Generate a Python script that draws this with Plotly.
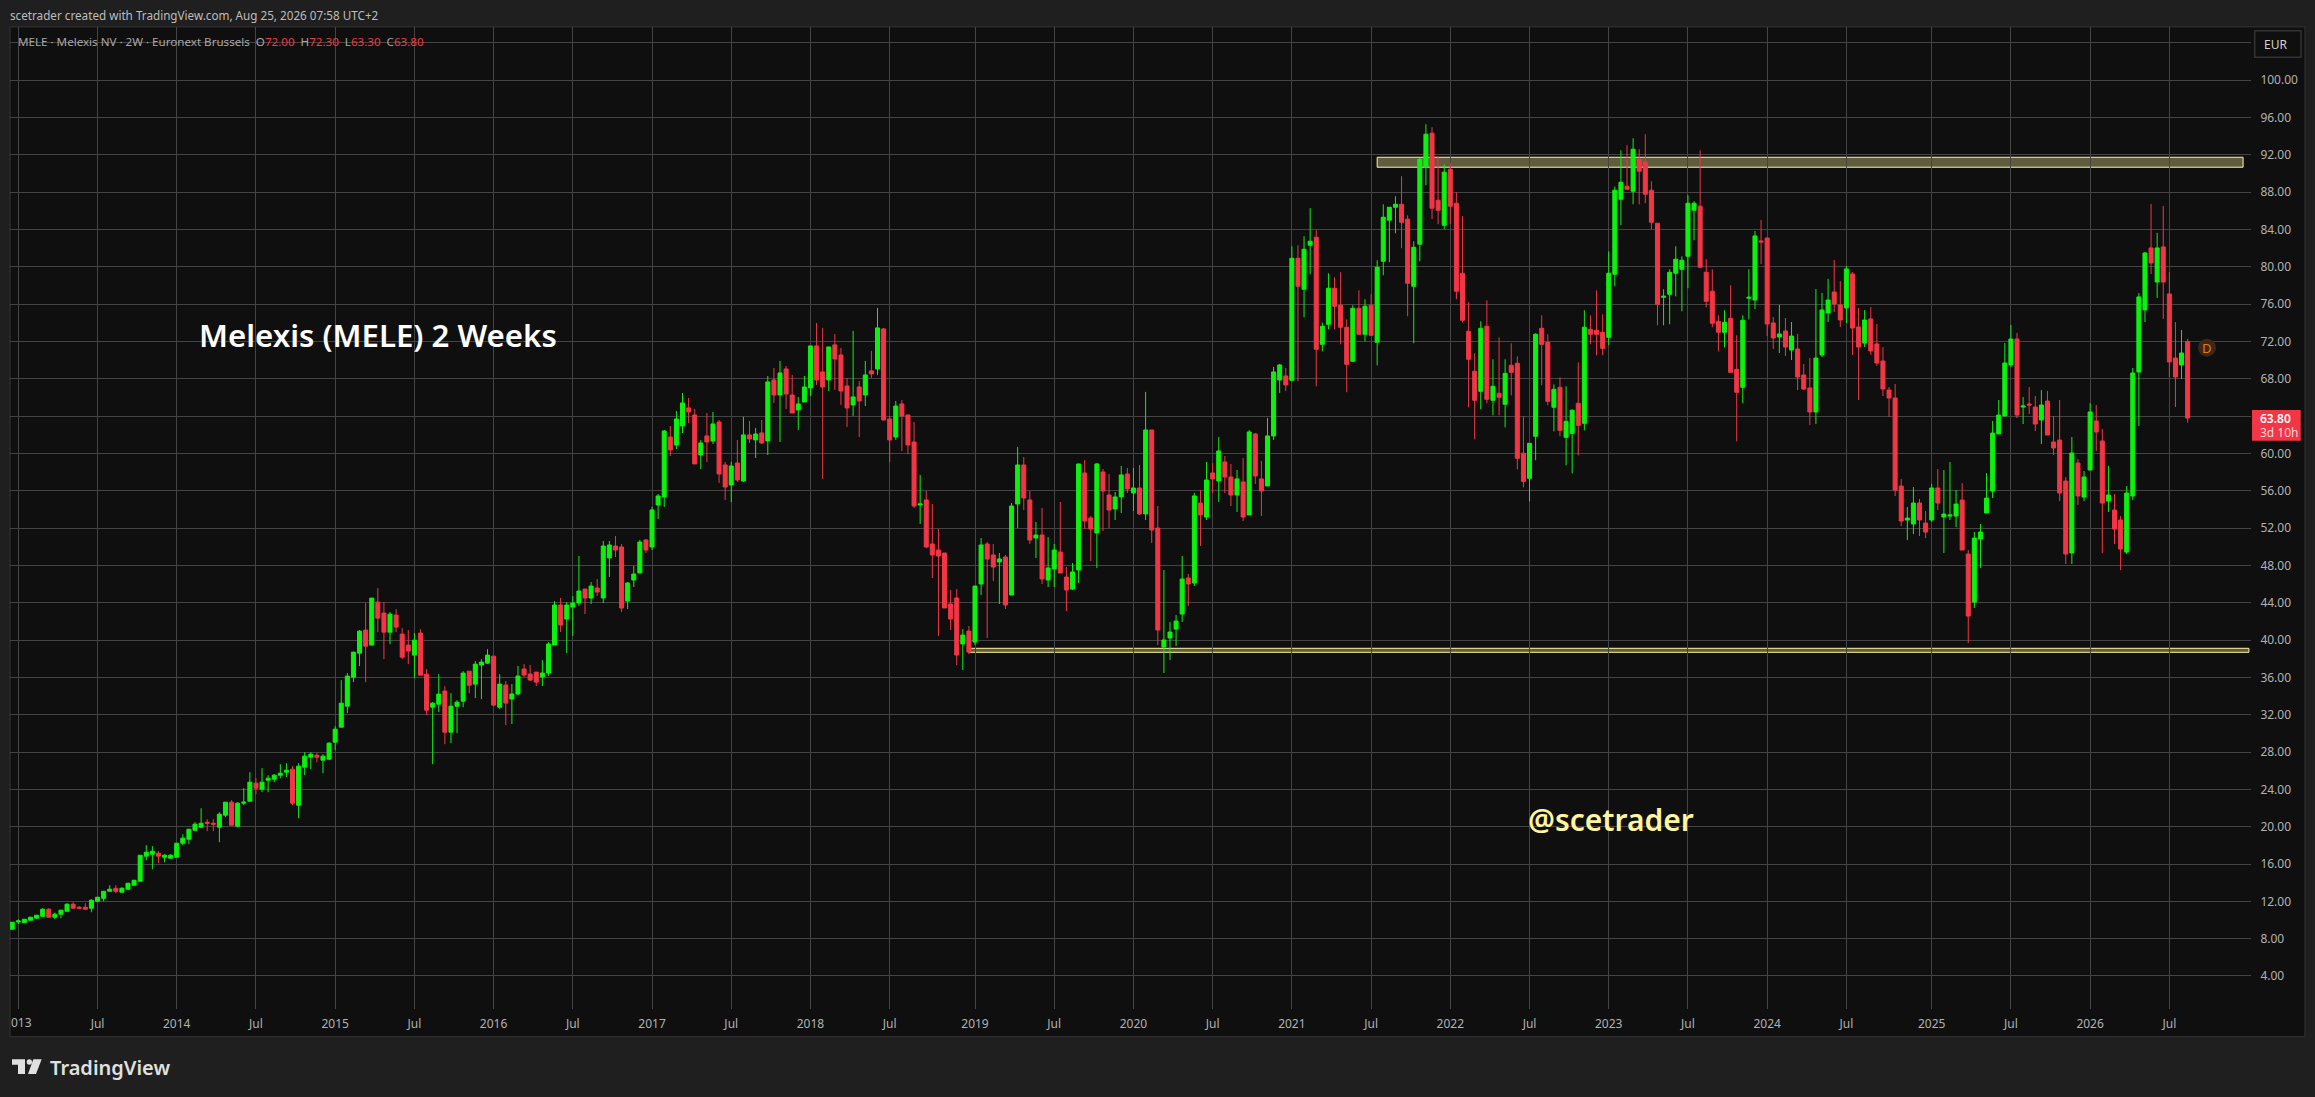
import plotly.graph_objects as go

opens = [
 9.01, 9.79, 9.72, 9.97, 10.19, 10.40, 11.15, 10.30, 10.62, 10.94,
 11.69, 11.37, 11.37, 11.26, 12.01, 12.33, 13.08, 13.40, 12.98, 13.30,
 13.73, 14.15, 16.84, 17.05, 17.16, 16.73, 16.62, 16.73, 18.23, 18.66,
 19.62, 19.95, 20.48, 20.37, 19.95, 21.23, 22.63, 20.05, 22.52, 22.73,
 24.66, 24.02, 24.98, 25.09, 25.52, 25.84, 26.16, 22.30, 26.38, 27.45,
 27.66, 27.13, 27.24, 29.06, 30.67, 32.92, 36.03, 38.60, 41.07, 39.46,
 44.07, 42.89, 40.85, 42.68, 40.64, 39.46, 38.39, 40.75, 36.35, 32.81,
 33.13, 34.53, 30.13, 32.92, 33.45, 36.67, 35.28, 37.32, 37.53, 38.28,
 32.81, 35.18, 33.68, 34.22, 36.90, 36.36, 36.57, 36.04, 36.47, 39.47,
 43.76, 42.26, 43.54, 43.97, 45.47, 44.51, 45.58, 44.51, 48.80, 50.08,
 49.98, 44.19, 46.44, 47.19, 50.73, 49.98, 54.48, 55.34, 61.77, 60.91,
 62.95, 64.88, 64.13, 59.84, 61.88, 61.34, 63.38, 58.77, 56.62, 58.98,
 57.05, 61.99, 61.45, 62.20, 61.34, 67.88, 66.27, 69.06, 66.27, 64.67,
 65.52, 67.02, 71.53, 68.74, 67.88, 71.64, 70.56, 67.24, 65.20, 67.13,
 66.27, 68.85, 69.06, 73.35, 63.70, 61.77, 65.31, 64.13, 61.23, 54.48,
 55.02, 50.30, 49.65, 49.33, 43.87, 44.51, 39.58, 40.97, 39.79, 46.01,
 50.30, 49.12, 48.37, 48.90, 44.83, 54.59, 58.77, 55.02, 50.94, 51.26,
 46.44, 47.62, 49.44, 46.76, 45.47, 47.51, 57.91, 53.09, 51.48, 58.02,
 55.55, 54.05, 55.34, 57.80, 55.77, 56.30, 53.52, 62.52, 52.01, 39.25,
 40.22, 41.18, 42.79, 46.65, 46.12, 54.69, 53.19, 57.91, 57.05, 59.09,
 57.48, 55.55, 56.95, 53.41, 62.09, 57.27, 56.52, 61.88, 67.88, 68.31,
 67.84, 80.92, 77.60, 82.32, 83.18, 71.70, 73.85, 77.71, 75.89, 73.53,
 69.88, 75.56, 72.78, 75.89, 71.92, 80.60, 85.00, 86.39, 86.71, 85.11,
 77.92, 82.43, 90.68, 94.33, 87.14, 84.46, 90.47, 86.82, 79.32, 73.10,
 68.81, 66.66, 73.63, 65.70, 66.45, 65.27, 69.45, 69.67, 60.02, 57.34,
 61.84, 73.42, 71.92, 64.95, 67.09, 61.73, 62.16, 65.38, 63.23, 73.31,
 73.20, 72.99, 72.45, 79.21, 87.25, 88.64, 88.11, 91.54, 91.22, 88.22,
 84.68, 76.74, 77.06, 79.32, 79.74, 81.14, 86.07, 86.50, 79.42, 77.39,
 74.17, 72.99, 74.49, 69.02, 67.09, 76.64, 76.45, 82.78, 83.10, 73.99,
 72.49, 73.13, 71.09, 71.20, 68.41, 67.02, 64.45, 70.56, 75.06, 77.31,
 75.92, 75.60, 79.24, 73.56, 71.84, 74.42, 71.74, 69.91, 66.80, 65.95,
 56.51, 52.87, 52.44, 54.69, 52.54, 52.87, 56.30, 53.19, 53.29, 53.29,
 55.01, 49.22, 44.07, 50.83, 53.62, 55.97, 62.09, 64.02, 69.48, 72.27,
 64.98, 65.30, 64.98, 63.59, 65.62, 61.23, 61.44, 57.05, 49.33, 58.98,
 55.33, 58.23, 63.48, 61.34, 54.90, 53.94, 52.87, 49.43, 55.44, 68.73,
 75.38, 82.03, 78.38, 82.14, 77.10, 70.23, 69.48, 72.00,
]
highs = [
 9.76, 10.08, 10.08, 10.30, 10.51, 11.26, 11.26, 10.80, 11.05, 11.80,
 11.90, 11.47, 11.80, 12.22, 12.44, 13.08, 13.73, 13.73, 13.51, 13.94,
 14.26, 16.94, 18.02, 17.91, 17.37, 17.05, 17.05, 18.23, 19.19, 19.73,
 20.48, 21.98, 20.80, 20.80, 21.55, 22.63, 22.84, 22.63, 24.13, 25.84,
 25.20, 26.27, 25.52, 25.63, 26.70, 26.81, 26.49, 26.81, 27.99, 27.99,
 27.88, 27.77, 29.06, 30.77, 35.71, 36.46, 38.71, 41.07, 43.96, 44.50,
 45.57, 44.07, 43.00, 43.32, 41.28, 41.07, 40.75, 41.17, 36.89, 33.35,
 36.35, 35.06, 34.31, 33.56, 36.67, 36.67, 37.74, 37.96, 39.03, 38.28,
 36.35, 35.61, 35.29, 37.22, 37.43, 37.33, 36.57, 37.86, 39.79, 44.19,
 44.51, 44.08, 44.72, 49.01, 45.47, 46.22, 46.55, 50.62, 50.62, 51.16,
 50.30, 46.22, 47.94, 50.73, 50.83, 54.27, 55.66, 62.52, 62.95, 64.56,
 66.49, 65.95, 64.77, 61.45, 64.34, 64.45, 63.59, 59.09, 59.09, 61.45,
 63.92, 63.49, 62.74, 63.59, 68.31, 69.17, 69.92, 69.38, 68.42, 66.06,
 68.31, 71.53, 73.99, 73.46, 71.42, 72.81, 71.31, 68.10, 73.14, 67.77,
 69.92, 70.99, 75.60, 73.46, 64.02, 65.63, 65.74, 64.13, 63.38, 57.70,
 55.98, 54.59, 51.91, 49.33, 45.37, 45.47, 41.18, 41.51, 45.79, 50.94,
 50.51, 50.30, 49.33, 49.12, 54.69, 60.70, 59.63, 55.98, 52.66, 54.16,
 51.05, 50.30, 54.80, 47.83, 48.26, 58.88, 59.30, 53.30, 58.98, 58.34,
 57.80, 55.87, 58.66, 58.45, 58.45, 58.77, 66.60, 62.52, 54.37, 47.51,
 41.94, 42.69, 49.01, 47.08, 55.77, 56.09, 59.09, 58.98, 61.77, 59.73,
 58.88, 58.23, 59.52, 62.52, 62.20, 59.20, 63.81, 69.28, 69.60, 69.17,
 82.21, 82.32, 83.28, 86.29, 83.93, 74.03, 79.32, 78.89, 79.42, 74.38,
 75.89, 77.49, 76.53, 77.06, 80.71, 86.71, 86.39, 87.57, 89.72, 85.53,
 82.75, 91.65, 95.29, 94.97, 91.86, 91.00, 91.11, 88.00, 85.43, 76.21,
 70.74, 74.17, 76.42, 70.10, 72.45, 70.10, 71.81, 70.42, 63.98, 61.09,
 72.88, 74.81, 72.78, 67.41, 68.17, 67.20, 64.73, 69.77, 75.35, 74.81,
 77.49, 74.92, 81.67, 88.61, 92.50, 93.04, 93.79, 92.61, 94.22, 89.18,
 84.68, 77.60, 79.74, 82.21, 81.14, 87.68, 87.04, 92.50, 80.82, 79.74,
 74.81, 75.35, 78.03, 72.67, 74.81, 79.74, 83.85, 85.03, 83.10, 74.63,
 75.92, 74.52, 74.09, 72.81, 69.59, 70.23, 77.63, 77.20, 78.71, 80.74,
 78.49, 80.10, 79.46, 75.60, 75.38, 75.70, 73.88, 71.41, 67.13, 67.45,
 57.26, 54.26, 56.40, 55.12, 53.83, 56.73, 58.33, 58.23, 59.08, 56.08,
 56.83, 49.65, 51.58, 52.44, 57.90, 63.48, 65.73, 71.84, 73.77, 72.92,
 66.05, 67.13, 66.16, 66.80, 66.70, 64.02, 65.73, 57.48, 61.76, 59.41,
 58.12, 65.41, 65.20, 62.62, 58.66, 55.65, 53.29, 56.51, 69.16, 77.20,
 81.60, 86.75, 83.64, 86.53, 79.46, 74.09, 73.24, 72.30,
]
lows = [
 9.01, 9.55, 9.65, 9.97, 10.19, 10.30, 10.30, 10.08, 10.19, 10.94,
 11.26, 11.15, 11.15, 10.83, 12.01, 12.01, 13.08, 12.87, 12.98, 13.30,
 13.73, 14.15, 16.41, 15.44, 16.09, 16.19, 16.62, 16.73, 18.02, 18.12,
 19.52, 19.84, 19.52, 19.52, 18.34, 21.02, 20.16, 19.95, 22.30, 22.73,
 23.48, 23.70, 23.70, 24.77, 25.20, 25.31, 22.30, 20.91, 25.52, 26.16,
 26.91, 25.73, 27.13, 28.20, 30.67, 32.17, 35.49, 37.21, 35.49, 39.46,
 40.85, 37.96, 39.57, 40.85, 37.96, 37.42, 35.92, 36.24, 31.95, 26.70,
 32.28, 28.84, 28.95, 30.02, 32.81, 34.31, 33.78, 33.67, 37.42, 32.92,
 32.60, 30.89, 31.00, 34.11, 36.04, 35.61, 35.07, 35.07, 36.15, 39.47,
 40.86, 38.61, 40.43, 43.65, 42.79, 43.87, 44.72, 43.97, 46.76, 48.90,
 43.01, 43.33, 45.69, 47.19, 49.33, 49.65, 52.98, 54.27, 59.73, 60.48,
 62.20, 63.27, 58.88, 58.34, 59.09, 61.02, 56.84, 55.02, 54.80, 56.95,
 56.95, 61.13, 59.52, 61.02, 59.84, 65.42, 61.23, 64.77, 64.34, 62.52,
 65.52, 66.17, 67.35, 57.27, 66.70, 66.81, 65.20, 62.84, 64.02, 61.77,
 65.09, 68.10, 68.42, 63.59, 59.09, 61.45, 60.27, 59.95, 54.16, 52.44,
 49.87, 46.65, 40.43, 43.44, 41.08, 37.33, 36.79, 38.50, 39.47, 44.83,
 40.22, 46.33, 43.87, 43.33, 44.83, 52.01, 53.94, 50.30, 48.80, 46.01,
 45.69, 45.69, 47.19, 43.11, 45.37, 46.12, 51.91, 48.48, 47.73, 51.69,
 52.01, 52.87, 53.62, 55.77, 53.84, 53.41, 52.87, 50.41, 39.47, 36.47,
 37.86, 39.36, 41.94, 43.65, 45.79, 50.08, 52.87, 55.77, 54.80, 55.77,
 54.37, 53.73, 52.76, 53.41, 56.73, 53.30, 56.52, 61.45, 66.49, 66.70,
 67.84, 67.74, 74.60, 79.21, 67.20, 70.95, 73.31, 73.31, 71.70, 66.56,
 69.88, 72.78, 72.02, 72.67, 69.45, 79.10, 80.50, 83.60, 82.00, 74.71,
 71.81, 80.60, 88.75, 85.11, 84.57, 84.03, 84.57, 76.53, 74.06, 64.95,
 61.52, 64.73, 65.38, 64.09, 64.09, 62.80, 66.23, 58.30, 56.37, 54.87,
 59.27, 67.31, 65.16, 62.37, 61.84, 58.73, 57.87, 59.80, 62.48, 71.70,
 70.52, 70.52, 71.60, 77.92, 84.46, 88.32, 86.71, 86.71, 86.82, 84.03,
 73.74, 73.74, 73.85, 76.85, 75.24, 77.71, 82.85, 79.85, 75.67, 73.53,
 70.95, 71.38, 68.70, 61.30, 65.38, 74.38, 75.49, 80.31, 72.59, 71.20,
 70.77, 70.45, 70.02, 66.80, 66.80, 63.05, 63.16, 70.34, 74.09, 75.17,
 73.56, 73.99, 70.56, 65.73, 71.41, 70.56, 69.38, 66.16, 63.91, 55.44,
 52.22, 50.72, 51.36, 51.15, 50.93, 52.65, 53.94, 49.33, 52.87, 52.11,
 49.65, 39.68, 43.43, 47.72, 53.62, 55.22, 62.09, 64.02, 69.27, 63.80,
 63.16, 64.23, 62.41, 61.01, 61.98, 59.83, 54.90, 48.15, 48.15, 54.47,
 54.90, 58.23, 60.26, 49.33, 53.72, 50.29, 47.50, 49.22, 55.01, 62.94,
 74.09, 79.24, 76.67, 74.42, 68.20, 64.98, 67.98, 63.30,
]
closes = [
 9.76, 9.90, 10.08, 10.30, 10.51, 11.15, 10.30, 10.62, 11.05, 11.69,
 11.26, 11.26, 11.15, 12.12, 12.44, 13.08, 13.30, 13.08, 13.40, 13.94,
 14.26, 16.94, 17.26, 17.37, 16.84, 16.94, 16.94, 18.23, 18.77, 19.73,
 20.27, 20.37, 20.37, 20.27, 21.34, 22.63, 20.16, 22.52, 22.63, 24.77,
 24.13, 24.77, 25.20, 25.52, 25.73, 26.06, 22.52, 26.49, 27.56, 27.77,
 27.45, 27.56, 28.95, 30.45, 33.24, 36.14, 38.71, 40.96, 39.35, 44.50,
 42.35, 40.85, 42.78, 41.39, 38.17, 38.82, 39.99, 36.24, 32.49, 33.24,
 34.21, 30.13, 32.92, 33.35, 36.46, 35.17, 37.42, 37.64, 38.39, 33.03,
 35.28, 33.25, 34.22, 36.15, 36.25, 35.72, 35.50, 36.47, 39.58, 43.76,
 41.61, 43.76, 43.97, 45.26, 44.51, 45.79, 45.15, 50.08, 50.19, 49.65,
 43.44, 46.12, 47.08, 50.51, 49.65, 53.94, 55.45, 62.41, 60.38, 63.70,
 65.42, 64.45, 58.88, 61.13, 61.23, 63.17, 57.80, 56.41, 58.66, 57.16,
 61.99, 61.56, 62.09, 61.13, 67.67, 66.27, 68.63, 66.38, 64.34, 65.31,
 67.13, 71.53, 67.88, 67.13, 71.42, 70.13, 66.70, 64.88, 66.06, 65.63,
 68.42, 68.53, 73.46, 63.59, 61.45, 65.09, 64.02, 60.91, 54.37, 54.59,
 49.98, 49.12, 49.01, 43.44, 42.26, 38.40, 40.54, 38.72, 45.79, 50.19,
 48.69, 47.83, 48.69, 43.76, 54.37, 58.77, 55.23, 50.73, 51.26, 46.55,
 47.73, 49.65, 47.19, 45.37, 47.30, 58.88, 52.76, 51.91, 58.88, 55.98,
 53.94, 55.34, 57.70, 56.20, 56.30, 53.52, 62.52, 51.80, 41.08, 40.01,
 40.86, 42.04, 46.55, 46.01, 55.45, 53.41, 57.16, 57.27, 60.27, 57.48,
 55.55, 57.27, 53.19, 62.31, 57.59, 55.98, 61.88, 68.74, 69.49, 67.35,
 80.92, 77.92, 81.89, 82.75, 71.17, 73.63, 77.71, 75.78, 73.53, 69.56,
 75.56, 72.78, 75.78, 72.67, 79.96, 85.32, 86.39, 86.71, 84.78, 78.24,
 82.10, 91.54, 94.22, 86.29, 86.07, 90.15, 86.50, 77.39, 74.28, 70.10,
 65.70, 73.42, 65.81, 67.20, 66.02, 68.59, 68.70, 59.48, 57.01, 61.09,
 72.78, 71.70, 65.59, 66.88, 62.48, 63.45, 64.63, 63.02, 73.53, 72.78,
 72.78, 71.27, 79.32, 88.22, 89.07, 88.32, 92.61, 90.25, 87.79, 84.78,
 76.00, 76.85, 79.42, 80.82, 80.71, 86.82, 86.82, 79.96, 76.31, 73.96,
 72.99, 74.06, 68.70, 66.56, 74.28, 76.74, 83.32, 82.67, 73.88, 72.38,
 72.81, 71.41, 72.59, 68.20, 66.91, 64.45, 70.23, 75.38, 76.45, 76.02,
 74.31, 79.78, 73.45, 71.41, 74.31, 70.99, 69.70, 66.91, 65.95, 56.08,
 52.76, 53.08, 54.69, 52.87, 51.58, 56.30, 54.69, 53.51, 53.40, 54.58,
 49.65, 42.57, 50.93, 51.58, 55.22, 62.19, 64.12, 69.70, 72.27, 64.12,
 65.09, 65.20, 63.16, 65.20, 61.98, 60.59, 55.76, 49.22, 60.05, 55.44,
 57.48, 64.45, 62.30, 54.69, 55.55, 51.90, 49.76, 55.76, 68.63, 76.78,
 81.49, 80.42, 82.03, 78.38, 69.81, 68.20, 70.77, 63.80,
]
assert len(opens) == len(highs) == len(lows) == len(closes) == 358, (len(opens), len(highs), len(lows), len(closes))

bar_index = list(range(-1, 357))
time_tick_bars = [13, 26, 39, 52, 65, 78, 91, 104, 117, 130, 143, 157, 170, 183,
                  196, 209, 222, 235, 248, 261, 274, 287, 300, 314, 327, 340, 353]
time_tick_labels = ["Jul", "2014", "Jul", "2015", "Jul", "2016", "Jul", "2017", "Jul", "2018", "Jul", "2019",
                    "Jul", "2020", "Jul", "2021", "Jul", "2022", "Jul", "2023", "Jul", "2024", "Jul", "2025",
                    "Jul", "2026", "Jul"]
price_ticks = [4, 8, 12, 16, 20, 24, 28, 32, 36, 40, 44, 48, 52, 56, 60, 64, 68, 72, 76, 80, 84, 88, 92, 96, 100, 104]
price_labels = [f"{p:.2f}" if p <= 100 else "" for p in price_ticks]

resistance_zone = dict(x0=223, x1=365.1, y0=90.68, y1=91.75)
support_zone = dict(x0=156, x1=366.05, y0=38.69, y1=39.12)

W, H = 2315, 1097
L, R, T, B = 10, 2251, 27, 1009
GREEN, RED = "#0CF20E", "#F23645"
FONT = "Noto Sans"
GRID = "#444444"
LABEL = "#B2B2B2"
YEL = "#FFF59D"


def px(x):
    return (x - L) / (R - L)


def py(y):
    return (B - y) / (B - T)


def poly(points):
    return "M " + " L ".join(f"{px(a):.5f},{py(b):.5f}" for a, b in points) + " Z"


def rect(x0, y0, x1, y1, **kw):
    return dict(type="rect", xref="paper", yref="paper", x0=px(x0), x1=px(x1), y0=py(y1), y1=py(y0), **kw)


def note(text, x, y, size=12, color=LABEL, anchor="left", weight=None, family=FONT):
    return dict(text=text, xref="paper", yref="paper", x=px(x), y=py(y), xanchor=anchor, yanchor="middle",
                showarrow=False, align="left", borderpad=0, borderwidth=0,
                font=dict(size=size, color=color, family=family, weight=weight))


fig = go.Figure(go.Candlestick(
    x=bar_index, open=opens, high=highs, low=lows, close=closes,
    increasing=dict(line=dict(color=GREEN, width=1), fillcolor=GREEN),
    decreasing=dict(line=dict(color=RED, width=1), fillcolor=RED),
    whiskerwidth=0, hoverinfo="skip", showlegend=False,
))

def lg(x, y):
    return (x / 3, 980 + y / 3)


shapes = [
    rect(10, 26.7, 2305, 1036.7, fillcolor="#0F0F0F", line=dict(color="#2B2B2B", width=1.5), layer="below"),
    dict(type="rect", xref="x", yref="y", layer="below", fillcolor="rgba(255,245,157,0.34)",
         line=dict(color=YEL, width=1), **resistance_zone),
    dict(type="rect", xref="x", yref="y", layer="below", fillcolor="rgba(255,245,157,0.34)",
         line=dict(color=YEL, width=1), **support_zone),
    rect(2254.7, 30.7, 2301, 57.3, fillcolor="#0F0F0F", line=dict(color="#333333", width=1.5), layer="above"),
    rect(2252, 410, 2300.7, 440.7, fillcolor=RED, line=dict(width=0), layer="above"),
    dict(type="circle", xref="paper", yref="paper", x0=px(2198), x1=px(2216), y0=py(356.7), y1=py(338.7),
         fillcolor="#38291A", line=dict(width=0), layer="above"),
    dict(type="path", xref="paper", yref="paper", fillcolor="#E0E0E0", line=dict(width=0),
         path=poly([lg(36, 238), lg(75, 238), lg(75, 282), lg(54, 282), lg(54, 254), lg(36, 254)])),
    dict(type="path", xref="paper", yref="paper", fillcolor="#E0E0E0", line=dict(width=0),
         path=poly([lg(125, 238), lg(100, 238), lg(84, 282), lg(108, 282)])),
    dict(type="circle", xref="paper", yref="paper", fillcolor="#E0E0E0", line=dict(width=0),
         x0=px(lg(80, 0)[0]), x1=px(lg(96, 0)[0]), y0=py(lg(0, 254)[1]), y1=py(lg(0, 238)[1])),
]

legend_text = ("MELE · Melexis NV · 2W · Euronext Brussels \u00a0"
               f"O<span style='color:{RED}'>72.00</span>\u00a0 H<span style='color:{RED}'>72.30</span>\u00a0 "
               f"L<span style='color:{RED}'>63.30</span>\u00a0 C<span style='color:{RED}'>63.80</span>")

annotations = [
    note("scetrader created with TradingView.com, Aug 25, 2026 07:58 UTC+2", 10, 15, size=11.7, color="#BDBDBD"),
    note(legend_text, 18, 42, size=11.6, color="#A8A8A8"),
    note("Melexis (MELE) 2 Weeks", 199, 335, size=31.2, color="#FFFFFF", weight=600),
    note("@scetrader", 1528, 819, size=30, color=YEL, weight=600),
    note("TradingView", 50, 1067, size=20, color="#E0E0E0", weight=600),
    note("EUR", 2264, 44.5, size=12, color="#D1D1D1"),
    note("D", 2207, 348, size=13, color="#E87A00", anchor="center"),
    note("63.80", 2260, 418.7, size=12, color="#FFFFFF", weight=600),
    note("3d 10h", 2260, 432.7, size=12, color="#FCD5D9"),
    note("013", 11, 1023, size=12, color=LABEL),
]

fig.update_layout(
    width=W, height=H, autosize=False,
    margin=dict(l=L, r=W - R, t=T, b=H - B, pad=0),
    paper_bgcolor="#1F1F1F", plot_bgcolor="#0F0F0F",
    boxgap=0.34, boxgroupgap=0,
    shapes=shapes, annotations=annotations,
    dragmode=False, hovermode=False, showlegend=False,
    xaxis=dict(range=[-1.362, 366.4], rangeslider=dict(visible=False),
               tickmode="array", tickvals=[0] + time_tick_bars, ticktext=[""] + time_tick_labels,
               showgrid=True, gridcolor=GRID, gridwidth=1, zeroline=False, showline=False,
               ticks="outside", ticklen=4, tickcolor="rgba(0,0,0,0)",
               tickfont=dict(family=FONT, size=12, color=LABEL)),
    yaxis=dict(range=[0.46, 105.71], side="right", tickmode="array", tickvals=price_ticks, ticktext=price_labels,
               showgrid=True, gridcolor=GRID, gridwidth=1, zeroline=False, showline=False,
               ticks="outside", ticklen=6, tickcolor="rgba(0,0,0,0)",
               tickfont=dict(family=FONT, size=12, color=LABEL)),
    font=dict(family=FONT),
)

fig.write_html("out.html", config=dict(displayModeBar=False, responsive=False),
               post_script="document.body.style.margin='0';document.body.style.overflow='hidden';document.body.style.background='#1F1F1F';")
